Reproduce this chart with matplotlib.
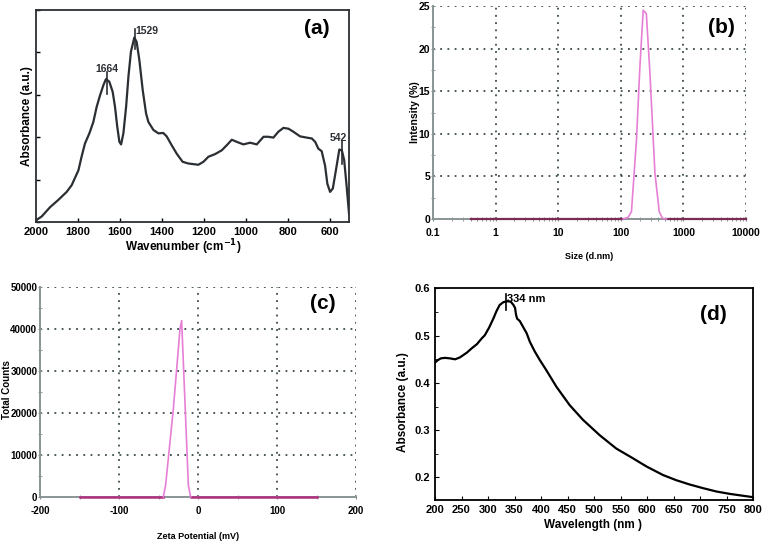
import numpy as np
import matplotlib
matplotlib.use("Agg")
import matplotlib.pyplot as plt
from matplotlib.ticker import MultipleLocator, LogLocator, NullFormatter


# (a) FTIR spectrum
ftir_wn = [2000, 1973, 1933, 1894, 1854, 1830, 1798, 1783, 1767, 1746, 1727, 1711, 1695,
           1679, 1667, 1651, 1635, 1624, 1613, 1603, 1595, 1584, 1571, 1560, 1548, 1532,
           1521, 1508, 1492, 1476, 1465, 1441, 1417, 1394, 1378, 1354, 1330, 1302, 1275,
           1227, 1203, 1179, 1148, 1116, 1092, 1068, 1044, 1013, 981, 949, 917, 894, 870,
           846, 822, 798, 775, 743, 711, 687, 671, 656, 640, 624, 613, 600, 587, 571, 556,
           544, 533, 521, 510]
ftir_abs = [0.04, 0.13, 0.35, 0.52, 0.71, 0.87, 1.22, 1.54, 1.85, 2.09, 2.36, 2.72, 2.99,
            3.23, 3.37, 3.31, 3.07, 2.72, 2.24, 1.89, 1.83, 2.09, 2.72, 3.43, 4.02, 4.35,
            4.25, 3.82, 3.11, 2.56, 2.36, 2.17, 2.09, 2.10, 2.02, 1.81, 1.61, 1.42, 1.38,
            1.35, 1.42, 1.54, 1.60, 1.69, 1.81, 1.94, 1.89, 1.83, 1.87, 1.83, 2.01, 2.01, 1.99,
            2.13, 2.22, 2.20, 2.13, 2.02, 1.99, 1.97, 1.89, 1.73, 1.67, 1.33, 0.90, 0.71,
            0.79, 1.26, 1.71, 1.69, 1.46, 0.83, 0.20]
ftir_peaks = [1664, 1529, 542]

# (b) DLS size distribution
size_nm = [0.4, 1, 10, 100, 109, 131, 148, 178, 202, 228, 256, 292, 351, 411, 464, 537, 1000, 10000]
intensity = [0, 0, 0, 0, 0, 0.2, 0.86, 9.3, 17.9, 24.5, 24.1, 17.1, 5.4, 0.86, 0.08, 0, 0, 0]

# (c) zeta potential
zeta_mv = [-150, -100, -50, -43.9, -41, -31.2, -22.8, -20.7, -16.5, -12.2, -9.3, 0, 50, 100, 150]
counts = [0, 0, 0, 0, 2800, 21000, 40000, 42000, 22600, 2800, 0, 0, 0, 0, 0]

# (d) UV-vis spectrum
wl = [200, 205, 211, 219, 228, 238, 247, 260, 269, 279, 288, 294, 302, 310, 316, 322,
      329, 336, 343, 348, 351, 353, 355, 360, 366, 373, 379, 388, 398, 410, 429, 454,
      479, 511, 542, 574, 599, 630, 655, 680, 706, 731, 756, 781, 800]
uv_abs = [0.443, 0.448, 0.452, 0.453, 0.452, 0.450, 0.454, 0.464, 0.473, 0.482, 0.494,
          0.501, 0.517, 0.536, 0.552, 0.565, 0.571, 0.573, 0.572, 0.565, 0.559, 0.544,
          0.536, 0.531, 0.519, 0.505, 0.487, 0.467, 0.448, 0.427, 0.392, 0.353, 0.322,
          0.289, 0.261, 0.240, 0.223, 0.205, 0.194, 0.185, 0.177, 0.170, 0.165, 0.161, 0.158]
uv_peak = 334

W, H = 766, 544
plt.rcParams['font.family'] = ['Liberation Sans', 'DejaVu Sans']
plt.rcParams['axes.unicode_minus'] = False
fig = plt.figure(figsize=(W / 100, H / 100), dpi=100)


def box(l, t, r, b):
    return [l / W, 1 - b / H, (r - l) / W, (b - t) / H]


def bold_ticks(ax, size):
    for lab in ax.get_xticklabels() + ax.get_yticklabels():
        lab.set_fontweight("bold")
        lab.set_fontsize(size)


def place_labels(ax, xpos, ypos):
    # label coords given as centres of the text
    ax.xaxis.label.set_va("center")
    ax.yaxis.label.set_va("center")
    ax.xaxis.set_label_coords(*xpos)
    ax.yaxis.set_label_coords(*ypos)


def dls_axes(ax):
    ax.grid(True, which="major", color="#3a4a4a", linestyle=(0, (1, 3)), linewidth=1.3)
    ax.tick_params(which="both", direction="inout", length=3, color="#808a8a")
    ax.tick_params(axis="y", pad=0.5)
    ax.tick_params(axis="x", pad=5)
    ax.spines["top"].set_visible(False)
    ax.spines["right"].set_visible(False)
    for k in ("left", "bottom"):
        ax.spines[k].set_color("#8a9595")
        ax.spines[k].set_linewidth(1.4)


dark = "#2b2f33"
pink = "#e77fd6"
base_col = "#7a2a55"

# ---- (a)
ax = fig.add_axes(box(36, 10, 349, 222))
ax.plot(ftir_wn, ftir_abs, color=dark, lw=1.6)
ax.set_xlim(2000, 510)
ax.set_ylim(0, 5)
ax.xaxis.set_major_locator(MultipleLocator(200))
ax.yaxis.set_major_locator(MultipleLocator(1))
ax.set_yticklabels([])
ax.tick_params(direction="in", length=3, width=1)
bold_ticks(ax, 8)
ax.set_xlabel("Wavenumber (cm$^{\\mathbf{-1}}$)", fontsize=8.5, fontweight="bold")
ax.set_ylabel("Absorbance (a.u.)", fontsize=8.5, fontweight="bold")
place_labels(ax, (0.47, -0.118), (-0.03, 0.5))
for s in ax.spines.values():
    s.set_linewidth(1.3)
    s.set_color(dark)
rev_wn = ftir_wn[::-1]
rev_abs = ftir_abs[::-1]
pk_style = {1664: (-0.33, 0.17, 0, 0.26, "center"),
            1529: (-0.25, 0.23, 4, 0.18, "left"),
            542: (-0.27, 0.27, -20, 0.34, "center")}
for p in ftir_peaks:
    yv = np.interp(p, rev_wn, rev_abs)
    lo, hi, dx, dy, ha = pk_style[p]
    ax.plot([p, p], [yv + lo, yv + hi], color=dark, lw=1.2)
    ax.text(p - dx, yv + dy, str(p), fontsize=7.5, fontweight="bold", ha=ha, va="center", color=dark)
ax.text(0.898, 0.915, "(a)", transform=ax.transAxes, fontsize=15, fontweight="bold", ha="center", va="center")

# ---- (b)
ax = fig.add_axes(box(433, 6, 746, 219))
ax.set_xscale("log")
ax.plot(size_nm[:5], intensity[:5], color=base_col, lw=1.6, zorder=5, clip_on=False)
ax.plot(size_nm[15:], intensity[15:], color=base_col, lw=1.6, zorder=5, clip_on=False)
ax.plot(size_nm[4:16], intensity[4:16], color=pink, lw=1.2, zorder=6, clip_on=False)
ax.set_xlim(0.1, 10000)
ax.set_ylim(0, 25)
ax.yaxis.set_major_locator(MultipleLocator(5))
ax.yaxis.set_minor_locator(MultipleLocator(2.5))
ax.set_xticks([0.1, 1, 10, 100, 1000, 10000])
ax.set_xticklabels(["0.1", "1", "10", "100", "1000", "10000"])
ax.xaxis.set_minor_locator(LogLocator(base=10, subs=(0.2, 0.3, 0.4, 0.5, 0.6, 0.7, 0.8, 0.9), numticks=10))
ax.xaxis.set_minor_formatter(NullFormatter())
dls_axes(ax)
bold_ticks(ax, 7.5)
ax.set_xlabel("Size (d.nm)", fontsize=6.5, fontweight="bold")
ax.set_ylabel("Intensity (%)", fontsize=7.5, fontweight="bold")
place_labels(ax, (0.5, -0.178), (-0.058, 0.5))
ax.text(0.92, 0.90, "(b)", transform=ax.transAxes, fontsize=15, fontweight="bold", ha="center", va="center")

# ---- (c)
ax = fig.add_axes(box(40, 287, 356, 497))
ax.plot(zeta_mv[:4], counts[:4], color="#b0307f", lw=1.8, zorder=5, clip_on=False)
ax.plot(zeta_mv[10:], counts[10:], color="#b0307f", lw=1.8, zorder=5, clip_on=False)
ax.plot(zeta_mv[3:11], counts[3:11], color=pink, lw=1.2, zorder=6, clip_on=False)
ax.set_xlim(-200, 200)
ax.set_ylim(0, 50000)
ax.xaxis.set_major_locator(MultipleLocator(100))
ax.xaxis.set_minor_locator(MultipleLocator(50))
ax.yaxis.set_major_locator(MultipleLocator(10000))
ax.yaxis.set_minor_locator(MultipleLocator(5000))
dls_axes(ax)
bold_ticks(ax, 7)
ax.set_xlabel("Zeta Potential (mV)", fontsize=6.5, fontweight="bold")
ax.set_ylabel("Total Counts", fontsize=7, fontweight="bold")
place_labels(ax, (0.5, -0.186), (-0.104, 0.51))
ax.text(0.896, 0.92, "(c)", transform=ax.transAxes, fontsize=15, fontweight="bold", ha="center", va="center")

# ---- (d)
ax = fig.add_axes(box(435, 288, 753, 500))
ax.plot(wl, uv_abs, color="black", lw=1.6)
ax.set_xlim(200, 800)
ax.set_ylim(0.152, 0.601)
ax.xaxis.set_major_locator(MultipleLocator(50))
ax.yaxis.set_major_locator(MultipleLocator(0.1))
ax.yaxis.set_minor_locator(MultipleLocator(0.05))
ax.tick_params(which="both", direction="in", length=3)
ax.tick_params(which="minor", length=2)
bold_ticks(ax, 8)
for s in ax.spines.values():
    s.set_linewidth(1.3)
ax.set_xlabel("Wavelength (nm )", fontsize=8.5, fontweight="bold")
ax.set_ylabel("Absorbance (a.u.)", fontsize=8.5, fontweight="bold")
place_labels(ax, (0.497, -0.118), (-0.10, 0.46))
pv = np.interp(uv_peak, wl, uv_abs)
ax.plot([uv_peak, uv_peak], [pv - 0.019, pv + 0.015], color="black", lw=1.2)
ax.text(uv_peak + 1, pv + 0.006, "334 nm", fontsize=8, fontweight="bold", ha="left", va="center")
ax.text(0.874, 0.873, "(d)", transform=ax.transAxes, fontsize=15, fontweight="bold", ha="center", va="center")

fig.savefig("out.png", dpi=100)
